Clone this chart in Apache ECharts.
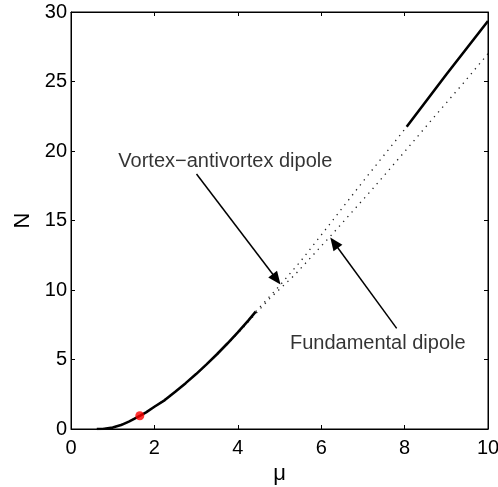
<!DOCTYPE html>
<html>
<head>
<meta charset="utf-8">
<script src="https://cdn.jsdelivr.net/npm/echarts@6/dist/echarts.min.js"></script>
<style>
html,body{margin:0;padding:0;background:#fff;}
#c{width:498px;height:487px;}
</style>
</head>
<body>
<div id="c"></div>
<script>
// Vortex-antivortex dipole branch: stable (solid), unstable (dotted), stable again (solid)
const vaStable1X = [0.62, 0.8, 1.0, 1.2, 1.4, 1.65, 1.8, 2.0, 2.25, 2.5, 2.75, 3.0, 3.25, 3.5, 3.75, 4.0, 4.25, 4.43];
const vaStable1Y = [0.0, 0.02, 0.1, 0.28, 0.55, 0.95, 1.2, 1.6, 2.08, 2.68, 3.3, 3.95, 4.65, 5.38, 6.15, 6.95, 7.8, 8.45];
const vaUnstableX = [4.43, 5.0, 5.5, 6.0, 7.0, 8.0];
const vaUnstableY = [8.45, 10.3, 12.05, 13.95, 17.8, 21.55];
const vaStable2X = [8.05, 9.0, 10.0];
const vaStable2Y = [21.75, 25.5, 29.35];
// Fundamental dipole branch (dotted)
const fundX = [0.62, 1.0, 1.4, 1.65, 2.0, 2.5, 3.0, 3.5, 4.0, 4.43, 4.77, 5.37, 6.29, 7.24, 8.0, 8.78, 9.4, 10.0];
const fundY = [0.0, 0.1, 0.55, 0.95, 1.6, 2.68, 3.93, 5.33, 6.88, 8.3, 9.4, 11.1, 14.1, 17.3, 19.95, 22.7, 24.85, 27.0];
// Marked point
const markX = [1.65];
const markY = [0.95];
// Annotations
const labelTexts = ['Vortex\u2212antivortex dipole', 'Fundamental dipole'];
const labelX = [1.135, 5.25];
const labelY = [19.23, 6.12];
const arrowFromX = [3.01, 7.81];
const arrowFromY = [18.35, 7.24];
const arrowToX = [4.93, 6.31];
const arrowToY = [10.77, 13.4];
// Axes
const xTicks = [0, 2, 4, 6, 8, 10];
const yTicks = [0, 5, 10, 15, 20, 25, 30];
const xName = '\u03bc';
const yName = 'N';

const zip = (a, b) => a.map((v, i) => [v, b[i]]);
const FONT = 'Liberation Sans, Arial, Helvetica, sans-serif';

const chart = echarts.init(document.getElementById('c'), null, {renderer: 'canvas'});

const axisCommon = () => ({
  type: 'value',
  axisLine: {show: true, onZero: false, lineStyle: {color: '#000', width: 1}},
  axisTick: {show: true, inside: true, length: 4, lineStyle: {color: '#000', width: 1}},
  splitLine: {show: false}
});

const option = {
  animation: false,
  backgroundColor: '#fff',
  grid: {left: 71, right: 10, top: 12, bottom: 58, containLabel: false, outerBoundsMode: 'none',
    show: true, borderColor: '#000', borderWidth: 1, backgroundColor: 'transparent'},
  xAxis: [
    Object.assign(axisCommon(), {
      min: xTicks[0], max: xTicks[xTicks.length - 1], interval: xTicks[1] - xTicks[0],
      position: 'bottom',
      name: xName, nameLocation: 'middle', nameGap: 33,
      nameTextStyle: {fontFamily: FONT, fontSize: 22, color: '#000'},
      axisLabel: {margin: 9, fontFamily: FONT, fontSize: 20, color: '#000', showMaxLabel: true}
    }),
    Object.assign(axisCommon(), {
      min: xTicks[0], max: xTicks[xTicks.length - 1], interval: xTicks[1] - xTicks[0],
      position: 'top', axisLabel: {show: false}
    })
  ],
  yAxis: [
    Object.assign(axisCommon(), {
      min: yTicks[0], max: yTicks[yTicks.length - 1], interval: yTicks[1] - yTicks[0],
      position: 'left',
      name: yName, nameLocation: 'middle', nameGap: 37,
      nameTextStyle: {fontFamily: FONT, fontSize: 22, color: '#000'},
      axisLabel: {margin: 4, fontFamily: FONT, fontSize: 20, color: '#000'}
    }),
    Object.assign(axisCommon(), {
      min: yTicks[0], max: yTicks[yTicks.length - 1], interval: yTicks[1] - yTicks[0],
      position: 'right', axisLabel: {show: false}
    })
  ],
  series: [
    {
      name: 'Fundamental dipole', type: 'line', data: zip(fundX, fundY),
      symbol: 'none', smooth: false, z: 2,
      lineStyle: {color: '#222', width: 1.3, type: [1.3, 5]}
    },
    {
      name: 'VA unstable', type: 'line', data: zip(vaUnstableX, vaUnstableY),
      symbol: 'none', smooth: false, z: 2,
      lineStyle: {color: '#222', width: 1.3, type: [1.3, 5]}
    },
    {
      name: 'VA stable 1', type: 'line', data: zip(vaStable1X, vaStable1Y),
      symbol: 'none', smooth: false, z: 3,
      lineStyle: {color: '#000', width: 2.6, type: 'solid'}
    },
    {
      name: 'VA stable 2', type: 'line', data: zip(vaStable2X, vaStable2Y),
      symbol: 'none', smooth: false, z: 3,
      lineStyle: {color: '#000', width: 2.6, type: 'solid'}
    },
    {
      name: 'point', type: 'scatter', data: zip(markX, markY),
      symbol: 'circle', symbolSize: 9, z: 5,
      itemStyle: {color: '#ff0000'}
    },
    {
      name: 'labels', type: 'scatter', symbolSize: 0, z: 6,
      data: labelTexts.map((t, i) => ({value: [labelX[i], labelY[i]], name: t})),
      label: {show: true, position: 'right', distance: 0, formatter: p => p.name,
        fontFamily: FONT, fontSize: 20, color: '#000'},
      silent: true
    },
    {
      name: 'arrows', type: 'line', data: [], z: 6, xAxisIndex: 1, yAxisIndex: 1,
      markLine: {
        silent: true, animation: false,
        symbol: ['none', 'triangle'], symbolSize: [11, 13],
        label: {show: false},
        lineStyle: {color: '#000', width: 1.5, type: 'solid'},
        data: arrowFromX.map((v, i) => [
          {coord: [v, arrowFromY[i]]},
          {coord: [arrowToX[i], arrowToY[i]]}
        ])
      }
    }
  ]
};
chart.setOption(option);
</script>
</body>
</html>
